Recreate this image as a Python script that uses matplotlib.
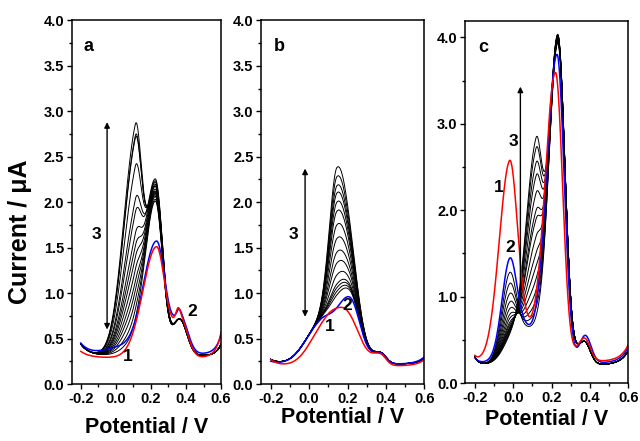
import numpy as np
import matplotlib
matplotlib.use("Agg")
import matplotlib.pyplot as plt
from matplotlib.ticker import MultipleLocator

plt.rcParams['font.family'] = ['Liberation Sans', 'DejaVu Sans']
plt.rcParams['font.weight'] = 'bold'

x = np.linspace(-0.2, 0.6, 400)

# each peak: (centre V, left width, right width, height uA)
# panel a
a_level = {'red': 0.29, 'blue': 0.33, 'black': 0.31}
a_left = {'red': 0.07, 'blue': 0.12, 'black': 0.13}
a_right = {'red': 0.28, 'blue': 0.22, 'black': 0.13}
a_red_peaks = [(0.232, 0.078, 0.05, 1.22), (0.37, 0.04, 0.04, 0.42), (0.355, 0.012, 0.012, 0.10)]
a_blue_peaks = [(0.02, 0.08, 0.08, 0.07), (0.232, 0.075, 0.05, 1.24), (0.37, 0.04, 0.04, 0.40),
                (0.36, 0.012, 0.012, 0.06)]
a_black_p1 = [0.13, 0.23, 0.33, 0.43, 0.53, 0.65, 0.78, 0.90, 1.03, 1.26, 1.41, 1.78, 2.10, 2.13, 2.26]
a_black_p2 = [1.70, 1.72, 1.75, 1.78, 1.80, 1.83, 1.86, 1.88, 1.92, 1.94, 1.90, 1.86, 1.80, 1.78, 1.75]

# panel b
b_level = {'red': 0.20, 'blue': 0.22, 'black': 0.22}
b_left = {'red': 0.07, 'blue': 0.03, 'black': 0.05}
b_right = {'red': 0.07, 'blue': 0.08, 'black': 0.06}
b_red_peaks = [(0.09, 0.08, 0.06, 0.45), (0.20, 0.06, 0.065, 0.52), (0.37, 0.04, 0.03, 0.12)]
b_blue_peaks = [(0.06, 0.08, 0.06, 0.42), (0.21, 0.07, 0.055, 0.72), (0.37, 0.04, 0.03, 0.12)]
b_black_g = [0.14, 0.18, 0.22, 0.26, 0.36, 0.49, 0.61, 0.76, 0.91, 1.06, 1.16, 1.26, 1.34, 1.44, 1.54]

# panel c
c_level = {'red': 0.25, 'blue': 0.23, 'black': 0.21}
c_left = {'red': 0.06, 'blue': 0.06, 'black': 0.09}
c_right = {'red': 0.20, 'blue': 0.19, 'black': 0.17}
c_red_peaks = [(0.04, 0.07, 0.06, 0.38), (-0.02, 0.055, 0.04, 2.06), (0.22, 0.055, 0.037, 3.34),
               (0.37, 0.035, 0.03, 0.27)]
c_blue_peaks = [(0.04, 0.07, 0.06, 0.42), (-0.02, 0.04, 0.035, 0.92), (0.228, 0.055, 0.037, 3.57),
                (0.375, 0.03, 0.03, 0.32)]
c_black_p1 = [0.84, 0.71, 0.59, 0.49, 0.41, 0.34, 0.29, 0.24, 0.21, 0.18, 0.16, 0.14, 0.12, 0.10, 0.08]
c_black_p2 = [0.20, 0.30, 0.40, 0.50, 0.63, 0.78, 0.93, 1.12, 1.32, 1.42, 1.62, 1.82, 1.97, 2.14, 2.26]
c_black_p3 = [3.72, 3.73, 3.74, 3.75, 3.76, 3.77, 3.78, 3.78, 3.79, 3.79, 3.80, 3.80, 3.81, 3.81, 3.82]


def peak(x, mu, sl, sr, h):
    s = np.where(x < mu, sl, sr)
    return h * np.exp(-(x - mu) ** 2 / (2 * s ** 2))


def trace(level, left, right, peaks, tl=0.05, tr=0.03):
    y = level + left * np.exp(-(x + 0.2) / tl) + right * np.exp((x - 0.6) / tr)
    for p in peaks:
        y = y + peak(x, *p)
    return y


fig = plt.figure(figsize=(6.4, 4.41), dpi=100)
ax_a = fig.add_axes([0.1125, 0.129, 0.233, 0.825])
ax_b = fig.add_axes([0.408, 0.129, 0.255, 0.825])
ax_c = fig.add_axes([0.727, 0.1315, 0.255, 0.821])

# --- a ---
for h1, h2 in zip(a_black_p1, a_black_p2):
    pk = [(0.11, 0.07, 0.035, h1), (0.225, 0.06, 0.042, h2), (0.365, 0.04, 0.04, 0.40)]
    ax_a.plot(x, trace(a_level['black'], a_left['black'], a_right['black'], pk), color='black', lw=0.7)
ax_a.plot(x, trace(a_level['blue'], a_left['blue'], a_right['blue'], a_blue_peaks), color='blue', lw=1.1)
ax_a.plot(x, trace(a_level['red'], a_left['red'], a_right['red'], a_red_peaks), color='red', lw=1.1)

# --- b ---
for g in b_black_g:
    pk = b_blue_peaks + [(0.145, 0.04, 0.06, g)]
    ax_b.plot(x, trace(b_level['black'], b_left['black'], b_right['black'], pk, 0.04, 0.04),
              color='black', lw=0.7)
ax_b.plot(x, trace(b_level['blue'], b_left['blue'], b_right['blue'], b_blue_peaks, 0.04, 0.04),
          color='blue', lw=1.1)
ax_b.plot(x, trace(b_level['red'], b_left['red'], b_right['red'], b_red_peaks, 0.04, 0.04),
          color='red', lw=1.1)

# --- c ---
for h1, h2, h3 in zip(c_black_p1, c_black_p2, c_black_p3):
    pk = [(0.04, 0.07, 0.06, 0.32), (-0.02, 0.04, 0.035, h1), (0.118, 0.05, 0.032, h2),
          (0.232, 0.048, 0.037, h3), (0.37, 0.035, 0.03, 0.27)]
    ax_c.plot(x, trace(c_level['black'], c_left['black'], c_right['black'], pk, 0.02, 0.04),
              color='black', lw=0.7)
ax_c.plot(x, trace(c_level['blue'], c_left['blue'], c_right['blue'], c_blue_peaks, 0.02, 0.04),
          color='blue', lw=1.1)
ax_c.plot(x, trace(c_level['red'], c_left['red'], c_right['red'], c_red_peaks, 0.02, 0.04),
          color='red', lw=1.1)

fmt = plt.FuncFormatter(lambda v, p: f"{v:.1f}")
for ax in (ax_a, ax_b, ax_c):
    ax.set_xlim(-0.25, 0.6)
    ax.xaxis.set_major_locator(MultipleLocator(0.2))
    ax.xaxis.set_minor_locator(MultipleLocator(0.1))
    ax.tick_params(which='both', direction='out', top=False, right=False, labelsize=10.5, pad=2)
    ax.tick_params(which='major', length=3.5, width=1)
    ax.tick_params(which='minor', length=2.2, width=1)
    for s in ax.spines.values():
        s.set_linewidth(1.1)
    ax.xaxis.set_major_formatter(fmt)
    ax.yaxis.set_major_formatter(fmt)

for ax in (ax_a, ax_b):
    ax.set_ylim(0, 4.0)
    ax.yaxis.set_major_locator(MultipleLocator(0.5))
    ax.yaxis.set_minor_locator(MultipleLocator(0.25))
ax_c.set_ylim(0, 4.19)
ax_c.yaxis.set_major_locator(MultipleLocator(1.0))
ax_c.yaxis.set_minor_locator(MultipleLocator(0.5))

ax_a.set_ylabel('Current / \u03bcA', fontsize=18, fontweight='bold', va='center')
ax_a.yaxis.set_label_coords(-0.35, 0.42)
for ax, ly in ((ax_a, -0.12), (ax_b, -0.093), (ax_c, -0.102)):
    ax.set_xlabel('Potential / V', fontsize=15.5, fontweight='bold', va='center')
    ax.xaxis.set_label_coords(0.5, ly)

lab = dict(fontsize=12.5, fontweight='bold')
ax_a.text(0.08, 0.95, 'a', transform=ax_a.transAxes, ha='left', va='top', fontsize=13, fontweight='bold')
ax_b.text(0.08, 0.95, 'b', transform=ax_b.transAxes, ha='left', va='top', fontsize=13, fontweight='bold')
ax_c.text(0.08, 0.95, 'c', transform=ax_c.transAxes, ha='left', va='top', fontsize=13, fontweight='bold')

arrow2 = dict(arrowstyle='<|-|>', color='black', lw=1.0, mutation_scale=8, shrinkA=0, shrinkB=0)
arrow1 = dict(arrowstyle='-|>', color='black', lw=1.0, mutation_scale=8, shrinkA=0, shrinkB=0)
ax_a.annotate('', xy=(-0.05, 2.88), xytext=(-0.05, 0.6), arrowprops=arrow2)
ax_a.text(-0.11, 1.65, '3', ha='center', va='center', **lab)
ax_a.text(0.07, 0.3, '1', ha='center', va='center', **lab)
ax_a.text(0.436, 0.8, '2', ha='center', va='center', **lab)

ax_b.annotate('', xy=(-0.021, 2.37), xytext=(-0.021, 0.74), arrowprops=arrow2)
ax_b.text(-0.082, 1.64, '3', ha='center', va='center', **lab)
ax_b.text(0.108, 0.63, '1', ha='center', va='center', **lab)
ax_b.text(0.2, 0.86, '2', ha='center', va='center', **lab)

ax_c.annotate('', xy=(0.037, 3.43), xytext=(0.037, 1.0), arrowprops=arrow1)
ax_c.text(0.003, 2.8, '3', ha='center', va='center', **lab)
ax_c.text(-0.076, 2.26, '1', ha='center', va='center', **lab)
ax_c.text(-0.014, 1.57, '2', ha='center', va='center', **lab)

fig.savefig('out.png', dpi=100)
